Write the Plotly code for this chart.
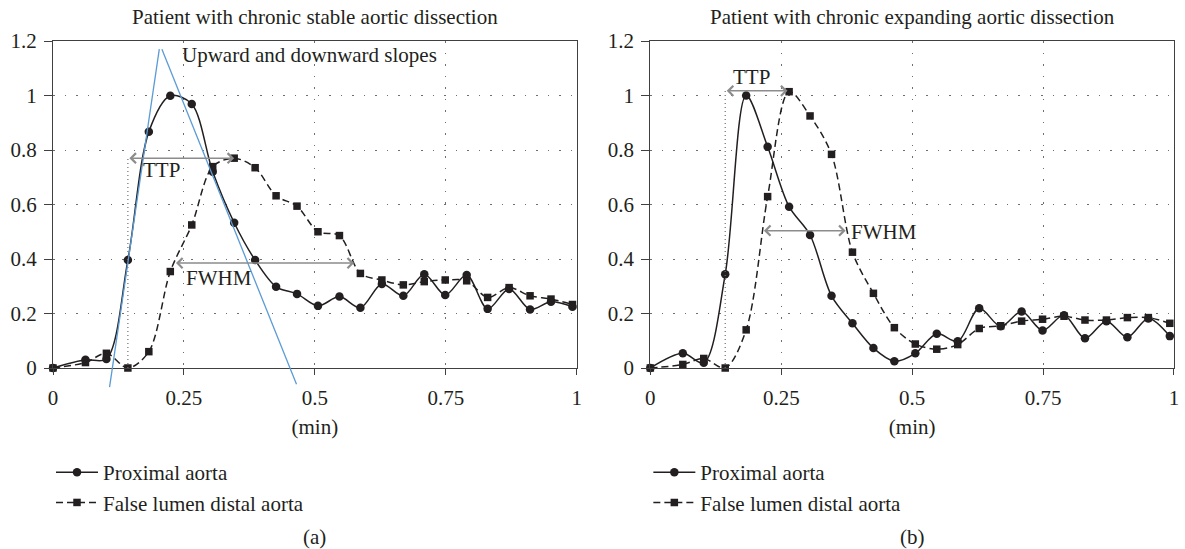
import plotly.graph_objects as go

# ---------------- data ----------------
time_min = [0, 0.062, 0.102, 0.143, 0.183, 0.224, 0.265, 0.305, 0.346, 0.386,
            0.426, 0.466, 0.506, 0.547, 0.587, 0.628, 0.669, 0.709, 0.749, 0.79,
            0.83, 0.871, 0.911, 0.951, 0.992]

stable_proximal = [0, 0.03, 0.033, 0.396, 0.867, 0.999, 0.969, 0.72, 0.533, 0.396,
                   0.298, 0.272, 0.228, 0.262, 0.221, 0.308, 0.265, 0.344, 0.268, 0.341,
                   0.217, 0.29, 0.215, 0.243, 0.225]
stable_false_lumen = [0, 0.02, 0.054, 0.0, 0.06, 0.354, 0.525, 0.739, 0.77, 0.735,
                      0.632, 0.594, 0.50, 0.486, 0.347, 0.323, 0.305, 0.317, 0.323, 0.32,
                      0.259, 0.295, 0.265, 0.253, 0.233]

expanding_proximal = [0, 0.054, 0.019, 0.344, 1.0, 0.812, 0.592, 0.488, 0.265, 0.164,
                      0.073, 0.025, 0.054, 0.126, 0.098, 0.219, 0.153, 0.207, 0.138, 0.194,
                      0.109, 0.172, 0.113, 0.182, 0.117]
expanding_false_lumen = [0, 0.013, 0.035, 0.0, 0.14, 0.629, 1.014, 0.925, 0.784, 0.425,
                         0.274, 0.148, 0.088, 0.069, 0.086, 0.145, 0.155, 0.172, 0.179, 0.19,
                         0.176, 0.176, 0.185, 0.185, 0.164]

series_names = ["Proximal aorta", "False lumen distal aorta"]
panel_titles = ["Patient with chronic stable aortic dissection",
                "Patient with chronic expanding aortic dissection"]
panel_labels = ["(a)", "(b)"]
x_title = "(min)"

x_ticks = [0, 0.25, 0.5, 0.75, 1]
x_tick_labels = ["0", "0.25", "0.5", "0.75", "1"]
y_ticks = [0, 0.2, 0.4, 0.6, 0.8, 1.0, 1.2]
y_tick_labels = ["0", "0.2", "0.4", "0.6", "0.8", "1", "1.2"]

# annotation values: TTP (start, end, level), FWHM (start, end, level)
stable_ttp = [0.143, 0.346, 0.77]
stable_fwhm = [0.232, 0.575, 0.385]
expanding_ttp = [0.143, 0.262, 1.017]
expanding_fwhm = [0.214, 0.373, 0.504]
# tangent slope lines for panel (a): [x0, y0, x1, y1]
upward_slope = [0.108, -0.07, 0.203, 1.17]
downward_slope = [0.208, 1.17, 0.465, -0.06]

# ---------------- styling ----------------
FONT = "Liberation Serif"
INK = "#231f20"
GRID = "#6e6e6e"
ARROW = "#8c8c8c"
BLUE = "#5b9bd5"
FS = 21
Y_MAX = 1.2

W, H = 1185, 549
ML, MR, MT, MB = 53, 6, 41, 181
PW = W - ML - MR
PH = H - MT - MB
dom_a = [0, 526 / PW]
dom_b = [600 / PW, 1]

def paper_y(px):
    """pixel row -> paper y"""
    return (H - MB - px) / PH

fig = go.Figure()

panels = [
    ("x", "y", "legend", stable_proximal, stable_false_lumen),
    ("x2", "y2", "legend2", expanding_proximal, expanding_false_lumen),
]
for xa, ya, lg, prox, fl in panels:
    fig.add_trace(go.Scatter(
        x=time_min, y=prox, name=series_names[0], xaxis=xa, yaxis=ya, legend=lg,
        mode="lines+markers", line=dict(color=INK, width=1.5, shape="spline", smoothing=0.9),
        marker=dict(symbol="circle", size=8.5, color=INK), cliponaxis=False))
    fig.add_trace(go.Scatter(
        x=time_min, y=fl, name=series_names[1], xaxis=xa, yaxis=ya, legend=lg,
        mode="lines+markers",
        line=dict(color=INK, width=1.5, dash="7px,4px", shape="spline", smoothing=0.9),
        marker=dict(symbol="square", size=7.5, color=INK), cliponaxis=False))

axis_common = dict(showline=True, linecolor="#404040", linewidth=1.2, mirror=True,
                   showgrid=True, gridcolor=GRID, gridwidth=1.2, griddash="1.5px,10px",
                   zeroline=False, ticks="outside", tickcolor="#404040",
                   tickfont=dict(family=FONT, size=FS, color=INK))

for i, (xn, yn, dom) in enumerate([("xaxis", "yaxis", dom_a), ("xaxis2", "yaxis2", dom_b)]):
    anchor_y = "y" if i == 0 else "y2"
    anchor_x = "x" if i == 0 else "x2"
    fig.layout[xn] = dict(axis_common, domain=dom, anchor=anchor_y, range=[0, 1],
                          tickvals=x_ticks, ticktext=x_tick_labels, ticklen=6,
                          ticklabelstandoff=5,
                          title=dict(text=x_title, font=dict(family=FONT, size=FS, color=INK),
                                     standoff=10))
    fig.layout[yn] = dict(axis_common, domain=[0, 1], anchor=anchor_x, range=[0, Y_MAX],
                          tickvals=y_ticks, ticktext=y_tick_labels, ticklen=8,
                          ticklabelstandoff=3)

annotations = []
shapes = []

def py(v):
    """data y -> paper y for the y domain [0,1]"""
    return v / Y_MAX

# panel titles and labels
for i, dom in enumerate([dom_a, dom_b]):
    cx = (dom[0] + dom[1]) / 2
    annotations.append(dict(text=panel_titles[i], x=cx, y=paper_y(17), xref="paper",
                            yref="paper", showarrow=False, xanchor="center", yanchor="middle",
                            font=dict(family=FONT, size=FS, color=INK)))
    annotations.append(dict(text=panel_labels[i], x=cx, y=paper_y(537), xref="paper",
                            yref="paper", showarrow=False, xanchor="center", yanchor="middle",
                            font=dict(family=FONT, size=FS, color=INK)))

def double_arrow(xr, yr, vals):
    x0, x1, lev = vals
    annotations.append(dict(x=x1, y=lev, ax=x0, ay=lev, xref=xr, yref=yr, axref=xr, ayref=yr,
                            text="", showarrow=True, arrowhead=4, startarrowhead=4,
                            arrowside="end+start", arrowsize=1.3, startarrowsize=1.3,
                            arrowwidth=1.5, arrowcolor=ARROW, standoff=0, startstandoff=0))

def label(xr, yr, text, x, y, anchor="center"):
    annotations.append(dict(text=text, x=x, y=y, xref=xr, yref=yr, showarrow=False,
                            xanchor=anchor, yanchor="middle",
                            font=dict(family=FONT, size=FS, color=INK)))

# panel (a)
double_arrow("x", "y", stable_ttp)
double_arrow("x", "y", stable_fwhm)
label("x", "y", "TTP", 0.208, 0.727)
label("x", "y", "FWHM", 0.3175, 0.329)
label("x", "y", "Upward and downward slopes", 0.243, 1.149, "left")
shapes.append(dict(type="line", xref="x", yref="y", x0=stable_ttp[0], x1=stable_ttp[0],
                   y0=0, y1=stable_ttp[2], line=dict(color=GRID, width=1.2, dash="1px,3px")))
for seg in (upward_slope, downward_slope):
    shapes.append(dict(type="line", xref="x", yref="paper", x0=seg[0], y0=py(seg[1]),
                       x1=seg[2], y1=py(seg[3]), line=dict(color=BLUE, width=1.3)))

# panel (b)
double_arrow("x2", "y2", expanding_ttp)
double_arrow("x2", "y2", expanding_fwhm)
label("x2", "y2", "TTP", 0.194, 1.069)
label("x2", "y2", "FWHM", 0.379, 0.50, "left")
shapes.append(dict(type="line", xref="x2", yref="y2", x0=expanding_ttp[0], x1=expanding_ttp[0],
                   y0=0, y1=expanding_ttp[2], line=dict(color=GRID, width=1.2, dash="1px,3px")))

legend_common = dict(font=dict(family=FONT, size=FS, color=INK), bgcolor="rgba(0,0,0,0)",
                     xanchor="left", yanchor="top", itemwidth=42, tracegroupgap=0,
                     orientation="v")
fig.update_layout(
    width=W, height=H, margin=dict(l=ML, r=MR, t=MT, b=MB),
    paper_bgcolor="white", plot_bgcolor="white",
    font=dict(family=FONT, size=FS, color=INK),
    showlegend=True,
    legend=dict(legend_common, x=(51 - ML) / PW, y=paper_y(452)),
    legend2=dict(legend_common, x=(651 - ML) / PW, y=paper_y(452)),
    annotations=annotations, shapes=shapes,
)

fig.write_html(
    "out.html",
    config={"displayModeBar": False},
    post_script="document.body.style.margin='0';document.body.style.overflow='hidden';",
)
